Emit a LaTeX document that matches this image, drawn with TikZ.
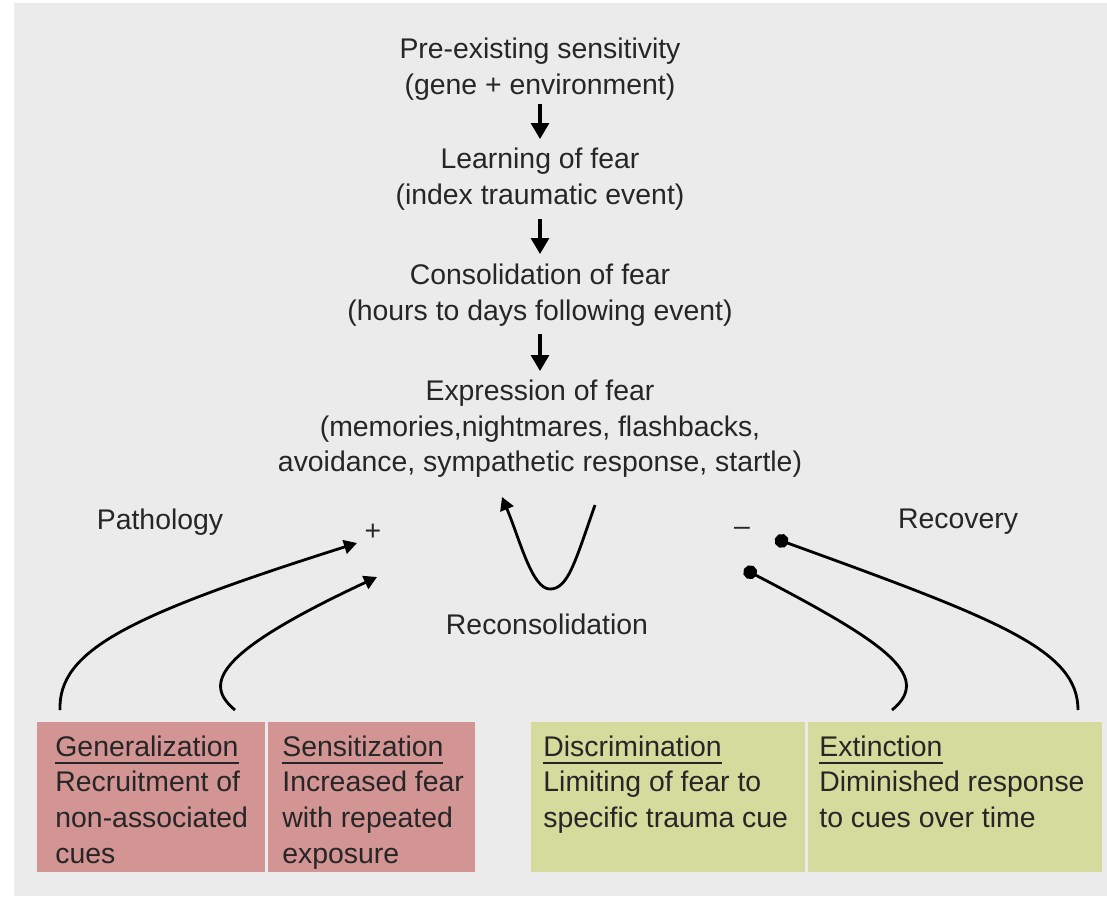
\documentclass[tikz,border=0pt]{standalone}
\usepackage{fontspec}
\setmainfont{Liberation Sans}
\usetikzlibrary{arrows.meta,calc}
\definecolor{bg}{HTML}{EBEBEB}
\definecolor{pinkbox}{HTML}{D39494}
\definecolor{greenbox}{HTML}{D3DB9D}
\definecolor{ink}{HTML}{262626}
\newcommand\myul[1]{\setbox0=\hbox{#1}\rlap{\copy0}\rule[-4pt]{\wd0}{1pt}}
\begin{document}
\begin{tikzpicture}[x=0.5pt,y=-0.5pt,
  txt/.style={font=\fontsize{14.2}{17.6}\selectfont, text=ink, inner sep=0pt},
  flow/.style={txt, align=center, anchor=north},
  btxt/.style={txt, font=\fontsize{14.2}{17.9}\selectfont, align=left, anchor=north west},
  downarrow/.style={draw=black, line width=1.6pt, -{Triangle[length=8pt,width=9pt]}},
  curvarrow/.style={draw=black, line width=1.4pt, -{Triangle[length=6.5pt,width=7pt]}},
  dotline/.style={draw=black, line width=1.4pt, -{Circle[length=7pt]}},
  pbox/.style={fill=pinkbox, draw=none, anchor=north west, inner sep=0pt, minimum height=75pt},
  gbox/.style={fill=greenbox, draw=none, anchor=north west, inner sep=0pt, minimum height=75pt}]
\useasboundingbox (0,0) rectangle (1107,896);
\fill[bg] (14,3) rectangle (1107,896);

% main flow
\node[flow] (pre) at (540,38) {Pre-existing sensitivity\\(gene + environment)};
\node[flow] (learn) at (540,148) {Learning of fear\\(index traumatic event)};
\node[flow] (cons) at (540,264) {Consolidation of fear\\(hours to days following event)};
\node[flow] (expr) at (540,380) {Expression of fear\\(memories,nightmares, flashbacks,\\avoidance, sympathetic response, startle)};

\draw[downarrow, shorten <=2pt, shorten >=4.5pt] (pre) -- (learn);
\draw[downarrow, shorten <=4.5pt, shorten >=5pt] (learn) -- (cons);
\draw[downarrow, shorten <=4pt, shorten >=4.5pt] (cons) -- (expr);

% labels
\node[txt] (path) at (160,522) {Pathology};
\node[txt] (reco) at (958,522) {Recovery};
\node[txt] (plus) at (373,532) {+};
\node[txt] (minus) at (742,531) {–};
\node[txt] (recon) at (547,624) {Reconsolidation};

% boxes
\node[pbox, minimum width=114pt] (gen) at (37,722) {};
\node[pbox, minimum width=103.5pt] (sen) at (268,722) {};
\node[gbox, minimum width=137pt] (dis) at (531,722) {};
\node[gbox, minimum width=147pt] (ext) at (808,722) {};

\node[btxt] (gent) at ($(gen.north west)+(18,13)$) {\myul{Generalization}\\Recruitment of\\non-associated\\cues};
\node[btxt] (sent) at ($(sen.north west)+(14,13)$) {\myul{Sensitization}\\Increased fear\\with repeated\\exposure};
\node[btxt] (dist) at ($(dis.north west)+(12,13)$) {\myul{Discrimination}\\Limiting of fear to\\specific trauma cue};
\node[btxt] (extt) at ($(ext.north west)+(11,13)$) {\myul{Extinction}\\Diminished response\\to cues over time};

% connector ends
\coordinate (g0) at ($(gen.north west)+(23,-12)$);
\coordinate (g1) at (357,543);
\coordinate (s0) at ($(sen.north west)+(-33,-12)$);
\coordinate (s1) at (377,577);
\coordinate (e0) at ($(ext.north west)+(270,-12)$);
\coordinate (e1) at (775,538.5);
\coordinate (d0) at ($(dis.north west)+(361,-12)$);
\coordinate (d1) at (744,569);
\coordinate (u0) at (595,505);
\coordinate (u1) at (502,497);

\draw[curvarrow] (g0) .. controls (58,650) and (130,615) .. (g1);
\draw[curvarrow] (s0) .. controls (205,685) and (210,655) .. (s1);
\draw[dotline] (e0) .. controls (1078,650) and (1000,620) .. (e1);
\draw[dotline] (d0) .. controls (935,675) and (880,640) .. (d1);
\draw[curvarrow] (u0) .. controls (575,562) and (568,589) .. (550,589) .. controls (532,589) and (520,540) .. (u1);
\end{tikzpicture}
\end{document}
